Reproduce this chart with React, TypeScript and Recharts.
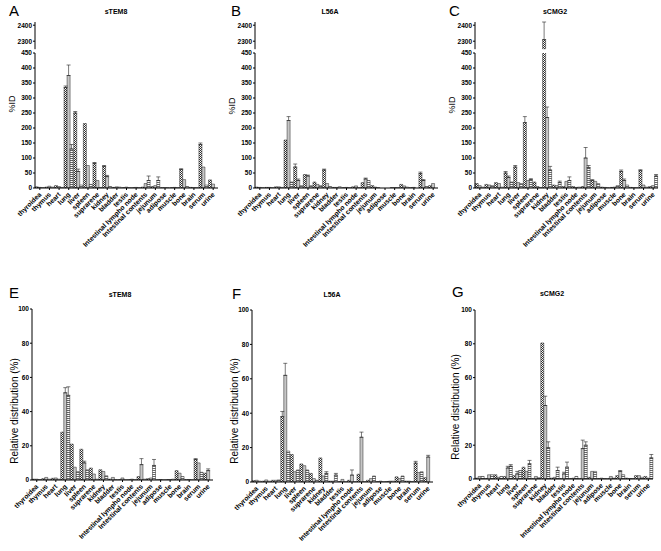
import React from "react";
import { BarChart, Bar, XAxis, YAxis, ErrorBar } from "recharts";

const FONT = "Arial, 'Liberation Sans', Helvetica, sans-serif";

const categories = [
  "thyroidea", "thymus", "heart", "lung", "liver", "spleen", "suprarene", "kidney", "bladder", "testis",
  "Intestinal lympho node", "Intestinal contents", "jejunum", "adipose", "muscle", "bone", "brain", "serum", "urine",
];

const idTicksLow = [0, 50, 100, 150, 200, 250, 300, 350, 400, 450];
const idTicksHigh = [2300, 2400];
const relTicks = [0, 20, 40, 60, 80, 100];

// Panel A – sTEM8, %ID
const aS1 = [4, 3, 8, 335, 250, 215, 82, 72, 2, 1, 1, 3, 5, 1, 1, 62, 2, 145, 27];
const aS2 = [2, 6, 5, 375, 55, 75, 25, 38, 4, 3, 2, 15, 8, 1, 2, 28, 1, 70, 13];
const aS3 = [1, 3, 2, 130, 10, 12, 2, 5, 3, 1, 1, 25, 25, 1, 1, 5, 1, 10, 0];
const aE1 = [0, 0, 0, 5, 5, 0, 3, 3, 0, 0, 0, 0, 0, 0, 0, 2, 0, 5, 0];
const aE2 = [0, 0, 0, 35, 8, 0, 0, 4, 0, 0, 0, 0, 0, 0, 0, 0, 0, 0, 0];
const aE3 = [0, 0, 0, 15, 0, 0, 0, 0, 0, 0, 0, 15, 12, 0, 0, 0, 0, 0, 0];

// Panel B – L56A, %ID
const bS1 = [3, 2, 4, 160, 70, 45, 20, 60, 2, 1, 4, 18, 8, 0, 1, 12, 1, 48, 8];
const bS2 = [2, 2, 4, 225, 25, 40, 12, 15, 2, 2, 7, 30, 3, 0, 1, 7, 2, 25, 15];
const bS3 = [1, 1, 2, 20, 8, 8, 8, 5, 4, 1, 1, 25, 1, 0, 1, 3, 0, 5, 0];
const bE1 = [0, 0, 0, 0, 10, 0, 0, 3, 0, 0, 0, 0, 0, 0, 0, 0, 0, 5, 0];
const bE2 = [0, 0, 0, 13, 5, 3, 0, 0, 0, 0, 0, 3, 0, 0, 0, 0, 0, 3, 0];
const bE3 = [0, 0, 0, 0, 0, 0, 0, 0, 0, 0, 0, 0, 0, 0, 0, 0, 0, 0, 0];

// Panel C – sCMG2, %ID
const cS1 = [15, 12, 18, 50, 70, 218, 20, 2310, 10, 5, 5, 5, 25, 3, 2, 55, 2, 58, 5];
const cS2 = [8, 10, 15, 35, 18, 25, 5, 235, 8, 22, 2, 100, 22, 2, 3, 25, 1, 10, 8];
const cS3 = [3, 8, 3, 20, 15, 28, 2, 60, 18, 25, 3, 68, 15, 1, 8, 10, 1, 3, 40];
const cE1 = [0, 0, 0, 5, 5, 20, 0, 110, 0, 0, 0, 0, 3, 0, 0, 5, 0, 3, 0];
const cE2 = [0, 0, 0, 5, 0, 0, 0, 35, 0, 0, 0, 35, 0, 0, 0, 5, 0, 0, 0];
const cE3 = [0, 0, 0, 0, 0, 3, 0, 12, 5, 12, 0, 7, 0, 0, 0, 0, 0, 0, 5];

// Panel E – sTEM8, relative distribution
const eS1 = [0.5, 0.8, 1, 28, 21, 18, 7, 6, 0.5, 0.2, 0.2, 2, 0.8, 0.1, 0.2, 5.5, 0.2, 12, 4];
const eS2 = [0.5, 1.5, 1.2, 51, 7.5, 10, 3.5, 5, 1.5, 1.2, 0.5, 9, 1.2, 0.3, 0.3, 4, 0.3, 10, 5.5];
const eS3 = [0.3, 0.5, 0.5, 49.5, 5, 6, 0.5, 2.5, 0.3, 0.1, 0.2, 0.5, 8.5, 0.1, 0.5, 2, 0.1, 4.5, 0];
const eE1 = [0, 0, 0, 0, 0, 0, 0, 0, 0, 0, 0, 0, 0, 0, 0, 0, 0, 0.5, 0];
const eE2 = [0, 0, 0, 3, 0, 1, 0, 0, 0, 0, 0, 3.5, 0, 0, 0, 0, 0, 0, 1];
const eE3 = [0, 0, 0, 5, 0, 0, 0, 0, 0, 0, 0, 0, 3.5, 0, 0, 0, 0, 0, 0];

// Panel F – L56A, relative distribution
const fS1 = [0.8, 0.5, 1, 38, 16, 10.5, 5, 14, 0.5, 0.2, 1, 4.5, 1, 0.2, 0.3, 3, 0.5, 11, 2.5];
const fS2 = [1, 1.2, 1, 62, 6, 9.5, 2, 3.5, 0.5, 1.5, 4, 26, 2, 0.5, 0.5, 2, 0.5, 5.5, 14.5];
const fS3 = [0.5, 0.5, 1.2, 18, 7, 7, 1, 5, 4, 0.1, 0.2, 0.2, 3.5, 0.1, 0.5, 3.5, 0.3, 6, 0];
const fE1 = [0, 0, 0, 3, 0, 0, 0, 0, 0, 0, 0, 0, 0, 0, 0, 0, 0, 1, 0];
const fE2 = [0, 0, 0, 7, 0, 0, 0, 0, 0, 0, 3, 3, 0, 0, 0, 0, 0, 0, 1];
const fE3 = [0, 0, 0, 0, 0, 0, 0, 1, 1, 0, 0, 0, 0, 0, 0, 0, 0, 0, 0];

// Panel G – sCMG2, relative distribution
const gS1 = [0.5, 0.3, 2.5, 1.5, 2, 7, 0.2, 80.5, 0.5, 0.2, 0.2, 0.2, 1, 0.3, 0.2, 2, 0.5, 2, 1.5];
const gS2 = [1.5, 2.5, 1, 6.5, 3, 4.5, 1.5, 43.5, 1, 3, 0.5, 18, 4.5, 0.5, 1.5, 4.5, 0.3, 2, 0.5];
const gS3 = [1.5, 2.5, 1.5, 7.5, 5, 9, 0.8, 18.5, 5, 7, 1.5, 20, 4.5, 0.2, 0.5, 2.5, 0.2, 1, 12.5];
const gE1 = [0, 0, 0, 0, 0, 0, 0, 0, 0, 0, 0, 0, 0, 0, 0, 0, 0, 0, 0];
const gE2 = [0, 0, 0, 1, 1.5, 0, 0, 5.5, 0, 1, 0, 5, 0, 0, 0, 0.5, 0, 0, 0];
const gE3 = [0, 0, 0, 1, 0, 2, 0, 3.5, 2, 3, 0, 2, 0, 0, 0, 0, 0, 0, 2];

const SERIES = [
  { key: "s1", err: "e1", fill: "url(#pChk)" },
  { key: "s2", err: "e2", fill: "#c6c6c6" },
  { key: "s3", err: "e3", fill: "url(#pStr)" },
];

function buildRows(s: number[][], e: number[][], breakAt?: number) {
  return categories.map((name, i) => {
    const row: any = { name };
    for (let k = 0; k < 3; k++) {
      const v = s[k][i];
      const er = e[k][i];
      row["s" + (k + 1)] = v;
      row["e" + (k + 1)] = er ? [0, er] : null;
      if (breakAt !== undefined) {
        row["t" + (k + 1)] = v > breakAt ? v : null;
        row["te" + (k + 1)] = v > breakAt && er ? [0, er] : null;
      }
    }
    return row;
  });
}

const CatTick = (props: any) => {
  const { x, y, payload } = props;
  const tx = x + 2;
  const ty = y + 3;
  return (
    <text
      x={tx}
      y={ty}
      transform={`rotate(-45 ${tx} ${ty})`}
      textAnchor="end"
      fontSize={6.8}
      fontWeight="bold"
      fontFamily={FONT}
      fill="#000"
    >
      {payload.value}
    </text>
  );
};

const yTick = { fontSize: 6.5, fontWeight: "bold" as const, fill: "#000", fontFamily: FONT };

type PanelProps = {
  left: number;
  top: number;
  width: number;
  height: number;
  axisW: number;
  plotTop: number;
  plotBottom: number;
  rows: any[];
  domain: [number, number];
  ticks: number[];
  broken?: boolean;
};

function renderBars(prefix: string, errPrefix: string) {
  return SERIES.map((s, k) => (
    <Bar
      key={s.key}
      dataKey={prefix + (k + 1)}
      fill={s.fill}
      stroke="#222"
      strokeWidth={0.5}
      isAnimationActive={false}
    >
      <ErrorBar dataKey={errPrefix + (k + 1)} width={2} stroke="#222" strokeWidth={0.6} direction="y" />
    </Bar>
  ));
}

function Panel(p: PanelProps) {
  const xH = p.height - p.plotBottom;
  return (
    <div style={{ position: "absolute", left: p.left, top: p.top, width: p.width, height: p.height }}>
      <div style={{ position: "absolute", left: 0, top: 0 }}>
        <BarChart
          width={p.width}
          height={p.height}
          data={p.rows}
          margin={{ top: p.plotTop, right: 2, left: 0, bottom: 0 }}
          barCategoryGap="2%"
          barGap={0}
        >
          <XAxis
            dataKey="name"
            interval={0}
            height={xH}
            tick={<CatTick />}
            tickSize={2}
            tickLine={{ stroke: "#000" }}
            axisLine={{ stroke: "#000" }}
          />
          <YAxis
            width={p.axisW}
            domain={p.domain}
            ticks={p.ticks}
            allowDataOverflow
            interval={0}
            tick={yTick}
            tickSize={2}
            tickMargin={1}
            tickLine={{ stroke: "#000" }}
            axisLine={{ stroke: "#000" }}
          />
          {renderBars("s", "e")}
        </BarChart>
      </div>
      {p.broken && (
        <div style={{ position: "absolute", left: 0, top: 0 }}>
          <BarChart
            width={p.width}
            height={50}
            data={p.rows}
            margin={{ top: 22, right: 2, left: 0, bottom: 0.8 }}
            barCategoryGap="2%"
            barGap={0}
          >
            <XAxis dataKey="name" hide />
            <YAxis
              width={p.axisW}
              domain={[2250, 2420]}
              ticks={idTicksHigh}
              allowDataOverflow
              interval={0}
              tick={yTick}
              tickSize={2}
              tickMargin={1}
              tickLine={{ stroke: "#000" }}
              axisLine={{ stroke: "#000" }}
            />
            {renderBars("t", "te")}
          </BarChart>
        </div>
      )}
    </div>
  );
}

const rowsA = buildRows([aS1, aS2, aS3], [aE1, aE2, aE3], 2250);
const rowsB = buildRows([bS1, bS2, bS3], [bE1, bE2, bE3], 2250);
const rowsC = buildRows([cS1, cS2, cS3], [cE1, cE2, cE3], 2250);
const rowsE = buildRows([eS1, eS2, eS3], [eE1, eE2, eE3]);
const rowsF = buildRows([fS1, fS2, fS3], [fE1, fE2, fE3]);
const rowsG = buildRows([gS1, gS2, gS3], [gE1, gE2, gE3]);

const Label = (p: { x: number; y: number; text: string; size: number; bold?: boolean; anchor?: string; rotate?: boolean }) => (
  <div
    style={{
      position: "absolute",
      left: p.x,
      top: p.y,
      fontFamily: FONT,
      fontSize: p.size,
      fontWeight: p.bold ? "bold" : "normal",
      lineHeight: 1,
      whiteSpace: "nowrap",
      color: "#000",
      transform: p.rotate ? "translate(-50%, -50%) rotate(-90deg)" : p.anchor === "middle" ? "translateX(-50%)" : undefined,
    }}
  >
    {p.text}
  </div>
);

export default function App() {
  return (
    <div style={{ position: "absolute", left: 0, top: 0, width: 661, height: 551, background: "#fff", overflow: "hidden" }}>
      <svg width={0} height={0} style={{ position: "absolute" }}>
        <defs>
          <pattern id="pChk" width="2" height="2" patternUnits="userSpaceOnUse">
            <rect width="2" height="2" fill="#fff" />
            <rect width="1" height="1" fill="#333" />
            <rect x="1" y="1" width="1" height="1" fill="#333" />
          </pattern>
          <pattern id="pStr" width="3" height="2" patternUnits="userSpaceOnUse">
            <rect width="3" height="2" fill="#fff" />
            <rect width="3" height="1" fill="#6a6a6a" />
          </pattern>
        </defs>
      </svg>

      <Panel left={0} top={0} width={220} height={260} axisW={35} plotTop={53} plotBottom={188} rows={rowsA} domain={[0, 450]} ticks={idTicksLow} broken />
      <Panel left={220} top={0} width={220} height={260} axisW={35} plotTop={53} plotBottom={188} rows={rowsB} domain={[0, 450]} ticks={idTicksLow} broken />
      <Panel left={440} top={0} width={220} height={260} axisW={35} plotTop={53} plotBottom={188} rows={rowsC} domain={[0, 450]} ticks={idTicksLow} broken />

      <Panel left={0} top={270} width={215} height={281} axisW={32} plotTop={39} plotBottom={210} rows={rowsE} domain={[0, 100]} ticks={relTicks} />
      <Panel left={220} top={270} width={215} height={281} axisW={32} plotTop={40} plotBottom={212} rows={rowsF} domain={[0, 100]} ticks={relTicks} />
      <Panel left={440} top={270} width={215} height={281} axisW={35} plotTop={40} plotBottom={209} rows={rowsG} domain={[0, 100]} ticks={relTicks} />

      <Label x={9} y={3} text="A" size={15} />
      <Label x={231} y={3} text="B" size={15} />
      <Label x={449} y={3} text="C" size={15} />
      <Label x={9} y={285} text="E" size={15} />
      <Label x={232} y={286} text="F" size={15} />
      <Label x={452} y={284} text="G" size={15} />

      <Label x={116} y={8} text="sTEM8" size={7} bold anchor="middle" />
      <Label x={330} y={8} text="L56A" size={7} bold anchor="middle" />
      <Label x={555} y={8} text="sCMG2" size={7} bold anchor="middle" />
      <Label x={120} y={291} text="sTEM8" size={7} bold anchor="middle" />
      <Label x={332} y={291} text="L56A" size={7} bold anchor="middle" />
      <Label x={552} y={290} text="sCMG2" size={7} bold anchor="middle" />

      <Label x={12} y={104} text="%ID" size={9} rotate />
      <Label x={232} y={106} text="%ID" size={9} rotate />
      <Label x={452} y={105} text="%ID" size={9} rotate />
      <Label x={15} y={411} text="Relative distribution (%)" size={10} rotate />
      <Label x={235} y={411} text="Relative distribution (%)" size={10} rotate />
      <Label x={456} y={407} text="Relative distribution (%)" size={10} rotate />
    </div>
  );
}
